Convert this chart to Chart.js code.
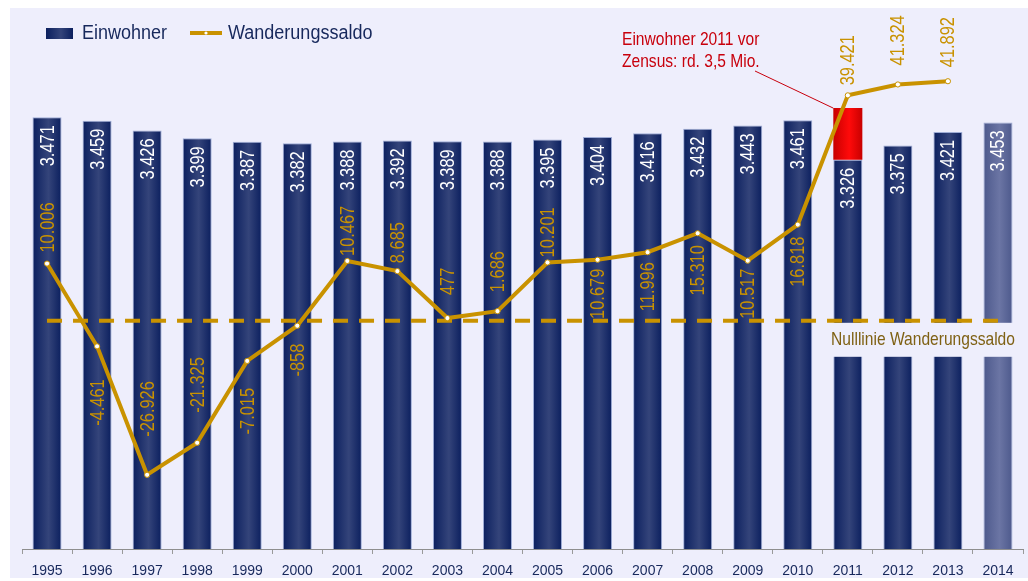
<!DOCTYPE html>
<html>
<head>
<meta charset="utf-8">
<script src="https://cdn.jsdelivr.net/npm/chart.js@4.4.1/dist/chart.umd.min.js"></script>
<style>
  html, body { margin: 0; padding: 0; background: #fff; }
</style>
</head>
<body>
<canvas id="einwohnerChart" width="1028" height="581"></canvas>
<script>
//// data
const years = ['1995', '1996', '1997', '1998', '1999', '2000', '2001', '2002', '2003', '2004',
  '2005', '2006', '2007', '2008', '2009', '2010', '2011', '2012', '2013', '2014'];
// Einwohner in Tausend
const einwohner = [3471, 3459, 3426, 3399, 3387, 3382, 3388, 3392, 3389, 3388,
  3395, 3404, 3416, 3432, 3443, 3461, 3326, 3375, 3421, 3453];
// 2011 vor Zensus, rd. 3,5 Mio
const einwohner2011VorZensus = 3502;
const wanderungssaldo = [10006, -4461, -26926, -21325, -7015, -858, 10467, 8685, 477, 1686,
  10201, 10679, 11996, 15310, 10517, 16818, 39421, 41324, 41892, null];

//// label placement (px gap from point, negative = above)
const saldoLabelGap = [-11, 33, -38, -30, 27, 18, -5, -8, -23, -19, -5, 9, 10, 12, 8, 12, -10, -19, -14];

const FONT = '"Liberation Sans", Arial, sans-serif';
const GOLD = '#c99200';
const NAVY_TEXT = '#17285c';
const BG = '#eeeefc';

function fmt(v) {
  const s = Math.abs(v).toString().replace(/\B(?=(\d{3})+(?!\d))/g, '.');
  return (v < 0 ? '-' : '') + s;
}

// condensed text (Arial Narrow look): squeeze along the writing direction
function narrowText(c, text, x, y, align, rotated, squeeze) {
  c.save();
  c.translate(x, y);
  if (rotated) c.rotate(-Math.PI / 2);
  c.scale(squeeze || 0.82, 1);
  c.textAlign = align;
  c.fillText(text, 0, 0);
  c.restore();
}

function cylinder(context, edge, mid) {
  const chart = context.chart;
  if (!chart.chartArea || context.type !== 'data') return edge;
  const x = chart.scales.x.getPixelForValue(context.dataIndex);
  const half = chart.scales.x.width / years.length * 0.58 / 2;
  const g = chart.ctx.createLinearGradient(x - half, 0, x + half, 0);
  g.addColorStop(0, edge);
  g.addColorStop(0.55, mid);
  g.addColorStop(1, edge);
  return g;
}

const backdrop = {
  id: 'backdrop',
  beforeDraw(chart) {
    const c = chart.ctx;
    c.save();
    c.fillStyle = '#fff';
    c.fillRect(0, 0, chart.width, chart.height);
    c.fillStyle = BG;
    c.fillRect(10, 8, chart.width - 10, chart.height - 11);
    c.restore();
  }
};

// dashed zero line + its label, drawn just under the saldo line
const nulllinie = {
  id: 'nulllinie',
  beforeDatasetDraw(chart, args) {
    if (args.index !== 0) return;
    const c = chart.ctx;
    const y0 = chart.scales.y1.getPixelForValue(0);
    const xs = chart.scales.x;
    c.save();
    c.fillStyle = BG;
    c.fillRect(828, y0 + 2, chart.width - 828, 34);
    c.fillStyle = '#7f6114';
    c.font = '19px ' + FONT;
    c.textBaseline = 'middle';
    narrowText(c, 'Nulllinie Wanderungssaldo', 923, y0 + 19, 'center', false);
    c.strokeStyle = GOLD;
    c.lineWidth = 4;
    c.setLineDash([15, 11]);
    c.beginPath();
    c.moveTo(xs.getPixelForValue(0), y0);
    c.lineTo(xs.getPixelForValue(years.length - 1), y0);
    c.stroke();
    c.restore();
  }
};

const labels = {
  id: 'labels',
  afterDatasetsDraw(chart) {
    const c = chart.ctx;
    c.save();
    c.font = '20px ' + FONT;
    c.textBaseline = 'middle';
    // Einwohner
    c.fillStyle = '#fff';
    chart.getDatasetMeta(2).data.forEach((el, i) => {
      narrowText(c, fmt(einwohner[i]), el.x + 1, el.y + 8, 'right', true);
    });
    // Wanderungssaldo
    c.fillStyle = GOLD;
    chart.getDatasetMeta(0).data.forEach((el, i) => {
      if (wanderungssaldo[i] == null) return;
      const gap = saldoLabelGap[i];
      narrowText(c, fmt(wanderungssaldo[i]), el.x + 1, el.y + gap, gap < 0 ? 'left' : 'right', true);
    });
    // annotation
    const red = chart.getDatasetMeta(1).data[years.indexOf('2011')];
    c.fillStyle = '#c8000c';
    c.font = '19px ' + FONT;
    narrowText(c, 'Einwohner 2011 vor', 622, 40, 'left', false);
    narrowText(c, 'Zensus: rd. 3,5 Mio.', 622, 62, 'left', false);
    c.strokeStyle = '#c8000c';
    c.lineWidth = 1;
    c.beginPath();
    c.moveTo(755, 71);
    c.lineTo(red.x - red.width / 2, red.y);
    c.stroke();
    c.restore();
  }
};

const legendBox = {
  id: 'legendBox',
  afterDraw(chart) {
    const c = chart.ctx;
    c.save();
    const g = c.createLinearGradient(46, 0, 73, 0);
    g.addColorStop(0, '#0b1f5e');
    g.addColorStop(0.55, '#34447a');
    g.addColorStop(1, '#0b1f5e');
    c.fillStyle = g;
    c.fillRect(46, 28, 27, 11);
    c.strokeStyle = GOLD;
    c.lineWidth = 4;
    c.beginPath();
    c.moveTo(190, 33);
    c.lineTo(222, 33);
    c.stroke();
    c.fillStyle = '#fff';
    c.beginPath();
    c.arc(206, 33, 1.6, 0, Math.PI * 2);
    c.fill();
    c.fillStyle = NAVY_TEXT;
    c.font = '20px ' + FONT;
    c.textBaseline = 'middle';
    narrowText(c, 'Einwohner', 82, 33, 'left', false, 0.9);
    narrowText(c, 'Wanderungssaldo', 228, 33, 'left', false, 0.9);
    c.restore();
  }
};

const ctx = document.getElementById('einwohnerChart').getContext('2d');
new Chart(ctx, {
  type: 'bar',
  data: {
    labels: years,
    datasets: [
      {
        type: 'line',
        label: 'Wanderungssaldo',
        data: wanderungssaldo,
        yAxisID: 'y1',
        order: 1,
        borderColor: GOLD,
        borderWidth: 4,
        tension: 0,
        pointRadius: 2.6,
        pointBackgroundColor: '#fff',
        pointBorderColor: GOLD,
        pointBorderWidth: 1
      },
      {
        label: 'Einwohner 2011 vor Zensus',
        data: years.map((y, i) => y === '2011' ? [einwohner[i], einwohner2011VorZensus] : null),
        yAxisID: 'y',
        order: 2,
        grouped: false,
        barPercentage: 0.58,
        categoryPercentage: 1,
        backgroundColor: (context) => cylinder(context, '#c80000', '#ff0a0a'),
        borderWidth: 0
      },
      {
        label: 'Einwohner',
        data: einwohner,
        yAxisID: 'y',
        order: 3,
        grouped: false,
        barPercentage: 0.58,
        categoryPercentage: 1,
        backgroundColor: (context) => context.dataIndex === years.length - 1
          ? cylinder(context, '#4d598c', '#6b75a4')
          : cylinder(context, '#0b1f5e', '#34447a'),
        borderColor: 'rgba(150,165,210,0.9)',
        borderWidth: 1,
        borderSkipped: 'bottom'
      }
    ]
  },
  options: {
    responsive: false,
    animation: false,
    layout: { padding: { top: 50, left: 22, right: 2, bottom: 0 } },
    plugins: {
      legend: { display: false },
      tooltip: { enabled: false }
    },
    scales: {
      x: {
        grid: { drawOnChartArea: false, drawTicks: true, tickLength: 5, color: '#9a9a9a', offset: true },
        border: { display: true, color: '#8e8e8e', width: 1 },
        ticks: { color: NAVY_TEXT, font: { family: FONT, size: 14 }, padding: 9, maxRotation: 0, autoSkip: false },
        afterFit(scale) { scale.height = 32; }
      },
      y: { display: false, min: 2000, max: 3700 },
      y1: { display: false, min: -39900, max: 47350 }
    }
  },
  plugins: [backdrop, nulllinie, labels, legendBox]
});
</script>
</body>
</html>
